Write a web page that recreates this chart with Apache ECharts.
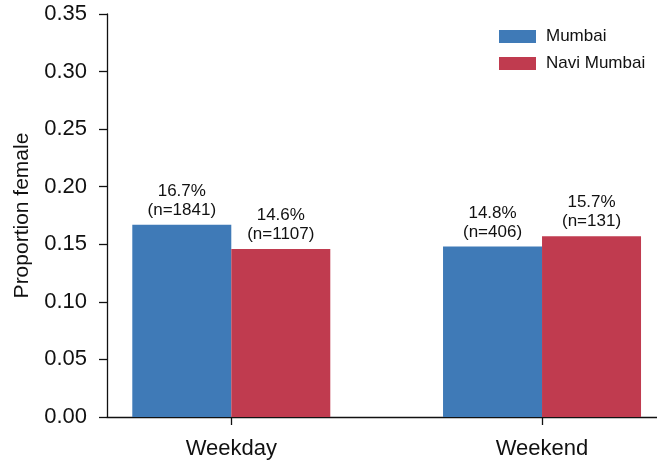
<!DOCTYPE html>
<html>
<head>
<meta charset="utf-8">
<script src="https://cdn.jsdelivr.net/npm/echarts@6/dist/echarts.min.js"></script>
<style>
html, body { margin: 0; padding: 0; background: #fff; }
#chart { width: 657px; height: 461px; }
</style>
</head>
<body>
<div id="chart"></div>
<script>
var categories = ['Weekday', 'Weekend'];
var mumbai = [0.167, 0.148];
var naviMumbai = [0.146, 0.157];
var mumbaiN = [1841, 406];
var naviMumbaiN = [1107, 131];

var font = 'Liberation Sans, Arial, sans-serif';

function pairs(vals) {
    return vals.map(function (v, i) { return [i, v]; });
}

function labelFor(counts) {
    return function (p) {
        return (p.value[1] * 100).toFixed(1) + '%\n(n=' + counts[p.dataIndex] + ')';
    };
}

var dom = document.getElementById('chart');
var myChart = echarts.init(dom, null, { renderer: 'canvas' });
var option = {
    animation: false,
    backgroundColor: '#fff',
    legend: {
        orient: 'vertical',
        left: 494,
        top: 23,
        itemWidth: 37,
        itemHeight: 13,
        itemGap: 10,
        icon: 'rect',
        data: ['Mumbai', 'Navi Mumbai'],
        textStyle: { fontFamily: font, fontSize: 17, color: '#111', padding: [0, 0, 0, 5] }
    },
    grid: {
        left: 107,
        right: 0,
        top: 14,
        bottom: 44,
        containLabel: false
    },
    xAxis: {
        type: 'value',
        min: -0.4,
        max: 1.37,
        splitLine: { show: false },
        axisLine: { show: true, onZero: false, lineStyle: { color: '#111', width: 1.3 } },
        axisTick: { show: true, length: 8, customValues: [0, 1], lineStyle: { color: '#111', width: 1.3 } },
        axisLabel: {
            customValues: [0, 1],
            margin: 21,
            fontFamily: font,
            fontSize: 22,
            color: '#111',
            formatter: function (v) { return categories[Math.round(v)]; }
        }
    },
    yAxis: {
        type: 'value',
        min: 0,
        max: 0.35,
        interval: 0.05,
        name: 'Proportion female',
        nameLocation: 'middle',
        nameGap: 74,
        nameTextStyle: { fontFamily: font, fontSize: 21, color: '#111' },
        splitLine: { show: false },
        axisLine: { show: true, onZero: false, lineStyle: { color: '#111', width: 1.3 } },
        axisTick: { show: true, length: 8, lineStyle: { color: '#111', width: 1.3 } },
        axisLabel: {
            margin: 20,
            fontFamily: font,
            fontSize: 22,
            color: '#111',
            formatter: function (v) { return v.toFixed(2); }
        }
    },
    series: [
        {
            name: 'Mumbai',
            type: 'bar',
            barWidth: 99,
            barGap: '0%',
            itemStyle: { color: '#3f7ab7' },
            label: {
                show: true,
                position: 'top',
                distance: 5,
                fontFamily: font,
                fontSize: 17,
                lineHeight: 19,
                color: '#111',
                formatter: labelFor(mumbaiN)
            },
            data: pairs(mumbai)
        },
        {
            name: 'Navi Mumbai',
            type: 'bar',
            barWidth: 99,
            barGap: '0%',
            itemStyle: { color: '#c03b4f' },
            label: {
                show: true,
                position: 'top',
                distance: 5,
                fontFamily: font,
                fontSize: 17,
                lineHeight: 19,
                color: '#111',
                formatter: labelFor(naviMumbaiN)
            },
            data: pairs(naviMumbai)
        }
    ]
};
myChart.setOption(option);
</script>
</body>
</html>
